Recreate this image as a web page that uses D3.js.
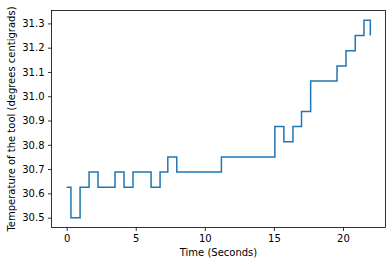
<!DOCTYPE html>
<html>
<head>
<meta charset="utf-8">
<script src="https://cdn.jsdelivr.net/npm/d3@7"></script>
<style>
  body { margin: 0; background: #fff; }
  text { font-family: "DejaVu Sans", sans-serif; }
</style>
</head>
<body>
<div id="chart"></div>
<script>
// step change times (s) and temperatures (deg C)
const times = [0, 0.31, 0.97, 1.62, 2.27, 3.5, 4.15, 4.8, 6.11, 6.76, 7.32, 7.97,
  11.2, 15.07, 15.72, 16.38, 17.0, 17.66, 19.57, 20.22, 20.89, 21.52, 21.98];
const temps = [30.625, 30.5, 30.625, 30.6875, 30.625, 30.6875, 30.625, 30.6875,
  30.625, 30.6875, 30.75, 30.6875, 30.75, 30.875, 30.8125, 30.875, 30.9375,
  31.0625, 31.125, 31.1875, 31.25, 31.3125, 31.25];
const xTicks = [0, 5, 10, 15, 20];
const yTicks = [30.5, 30.6, 30.7, 30.8, 30.9, 31.0, 31.1, 31.2, 31.3];

const width = 392, height = 266;
const margin = { left: 51.5, right: 6.5, top: 10.5, bottom: 38.5 };

const data = times.map((t, i) => ({ t: t, v: temps[i] }));

function padded(ext) {
  let p = (ext[1] - ext[0]) * 0.05;
  return [ext[0] - p, ext[1] + p];
}

let x = d3.scaleLinear()
  .domain(padded(d3.extent(times)))
  .range([margin.left, width - margin.right]);
let y = d3.scaleLinear()
  .domain(padded(d3.extent(temps)))
  .range([height - margin.bottom, margin.top]);

let svg = d3.select("#chart").append("svg")
  .attr("width", width)
  .attr("height", height);

let line = d3.line()
  .x(d => x(d.t))
  .y(d => y(d.v))
  .curve(d3.curveStepAfter);

svg.append("path")
  .datum(data)
  .attr("fill", "none")
  .attr("stroke", "#1f77b4")
  .attr("stroke-width", 1.5)
  .attr("d", line);

// axes
let xAxis = svg.append("g")
  .attr("transform", "translate(0," + (height - margin.bottom) + ")")
  .call(d3.axisBottom(x).tickValues(xTicks).tickSize(3.5).tickPadding(3.5).tickFormat(d3.format("d")));
let yAxis = svg.append("g")
  .attr("transform", "translate(" + margin.left + ",0)")
  .call(d3.axisLeft(y).tickValues(yTicks).tickSize(3.5).tickPadding(3.5).tickFormat(d3.format(".1f")));

[xAxis, yAxis].forEach(a => {
  a.select(".domain").remove();
  a.selectAll("text").attr("font-size", 10).attr("fill", "#000").attr("font-family", "DejaVu Sans");
  a.selectAll("line").attr("stroke", "#000").attr("stroke-width", 0.8);
});

// frame
svg.append("rect")
  .attr("x", margin.left)
  .attr("y", margin.top)
  .attr("width", width - margin.left - margin.right)
  .attr("height", height - margin.top - margin.bottom)
  .attr("fill", "none")
  .attr("stroke", "#000")
  .attr("stroke-width", 0.8);

svg.append("text")
  .attr("x", (margin.left + width - margin.right) / 2)
  .attr("y", 256)
  .attr("text-anchor", "middle")
  .attr("font-size", 10)
  .text("Time (Seconds)");

svg.append("text")
  .attr("transform", "translate(15," + (margin.top + height - margin.bottom) / 2 + ") rotate(-90)")
  .attr("text-anchor", "middle")
  .attr("font-size", 10)
  .text("Temperature of the tool (degrees centigrads)");
</script>
</body>
</html>
